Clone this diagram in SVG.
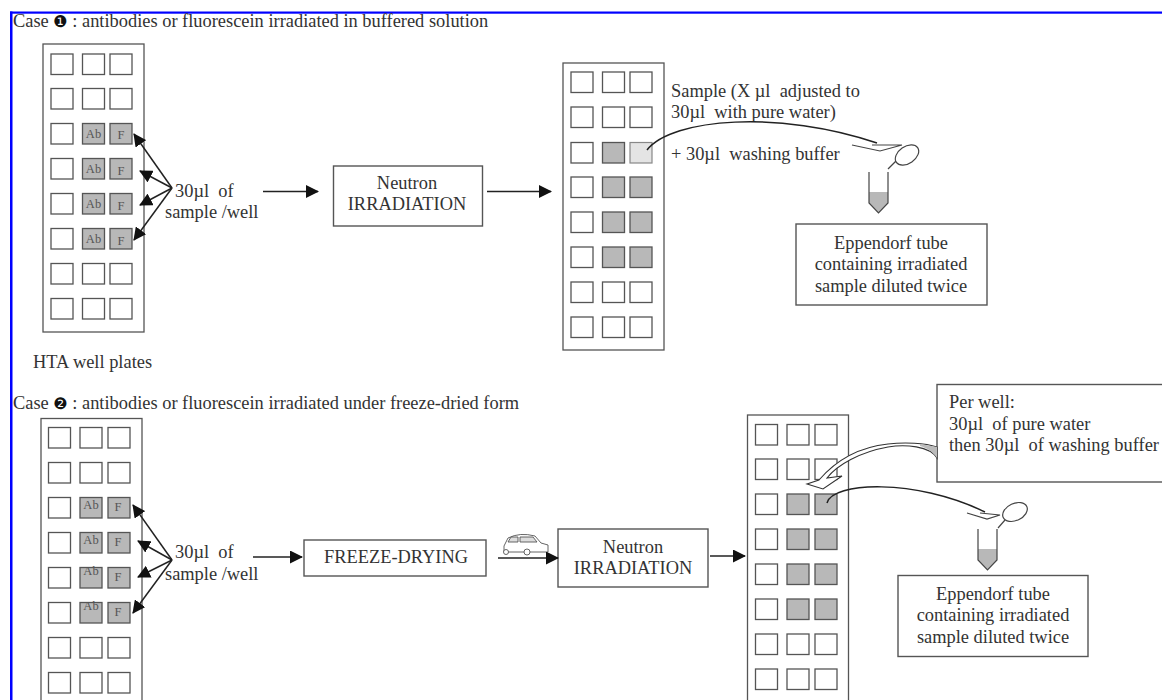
<svg xmlns="http://www.w3.org/2000/svg" width="1162" height="700" viewBox="0 0 1162 700">
<style>
text{font-family:"Liberation Serif","Times New Roman",serif;font-size:18.4px;fill:#333;white-space:pre}
.c{text-anchor:middle}
.box{fill:#fff;stroke:#555;stroke-width:1.4}
.plate{fill:#fff;stroke:#555;stroke-width:1.3}
.w{fill:#fff;stroke:#555;stroke-width:1.3}
.g{fill:#b8b8b8;stroke:#555;stroke-width:1.3}
.l{fill:#e4e4e4;stroke:#888;stroke-width:1.2}
.s{font-size:12.5px;fill:#555;text-anchor:middle}
.ln{fill:none;stroke:#444;stroke-width:1.2}
.ar{fill:none;stroke:#222;stroke-width:1.5;marker-end:url(#ah)}
.cv{fill:none;stroke:#222;stroke-width:1.5}
.bl{fill:#0000ff}
</style>
<defs>
<marker id="ah" markerUnits="userSpaceOnUse" markerWidth="13" markerHeight="13" refX="12" refY="6.500" orient="auto"><path d="M0 0L13 6.500L0 13Z" fill="#111"/></marker>
<rect id="well" class="w" width="22" height="20.500"/>
<rect id="gwell" class="g" width="22" height="20.500"/>
</defs>
<g id="frame"><rect class="bl" x="10" y="11.500" width="1152" height="2.200"/><rect class="bl" x="10" y="11.500" width="2.500" height="688.500"/></g>

<text id="title1" x="13" y="27">Case <tspan font-family="DejaVu Sans" font-size="16" fill="#111">❶</tspan> : antibodies or fluorescein irradiated in buffered solution</text>
<text id="title2" x="13" y="409">Case <tspan font-family="DejaVu Sans" font-size="16" fill="#111">❷</tspan> : antibodies or fluorescein irradiated under freeze-dried form</text>

<g id="plate1">
<rect class="plate" x="43" y="44" width="101" height="288"/>
<use href="#well" x="51" y="54"/><use href="#well" x="82.500" y="54"/><use href="#well" x="110" y="54"/>
<use href="#well" x="51" y="88.500"/><use href="#well" x="82.500" y="88.500"/><use href="#well" x="110" y="88.500"/>
<use href="#well" x="51" y="123.500"/><use href="#gwell" x="82.500" y="123.500"/><use href="#gwell" x="110" y="123.500"/>
<use href="#well" x="51" y="158.500"/><use href="#gwell" x="82.500" y="158.500"/><use href="#gwell" x="110" y="158.500"/>
<use href="#well" x="51" y="193.500"/><use href="#gwell" x="82.500" y="193.500"/><use href="#gwell" x="110" y="193.500"/>
<use href="#well" x="51" y="228.500"/><use href="#gwell" x="82.500" y="228.500"/><use href="#gwell" x="110" y="228.500"/>
<use href="#well" x="51" y="263.500"/><use href="#well" x="82.500" y="263.500"/><use href="#well" x="110" y="263.500"/>
<use href="#well" x="51" y="298.500"/><use href="#well" x="82.500" y="298.500"/><use href="#well" x="110" y="298.500"/>
<text class="s" x="93.500" y="138">Ab</text><text class="s" x="121" y="139">F</text>
<text class="s" x="93.500" y="173">Ab</text><text class="s" x="121" y="175">F</text>
<text class="s" x="93.500" y="208">Ab</text><text class="s" x="121" y="210">F</text>
<text class="s" x="93.500" y="243">Ab</text><text class="s" x="121" y="245">F</text>
</g>
<text id="plate-label" x="33" y="368">HTA well plates</text>

<g id="plate2">
<rect class="plate" x="563" y="63" width="101" height="287"/>
<use href="#well" x="571" y="72"/><use href="#well" x="602.500" y="72"/><use href="#well" x="630" y="72"/>
<use href="#well" x="571" y="107"/><use href="#well" x="602.500" y="107"/><use href="#well" x="630" y="107"/>
<use href="#well" x="571" y="142.500"/><use href="#gwell" x="602.500" y="142.500"/><rect class="l" x="630" y="142.500" width="22" height="20.500"/>
<use href="#well" x="571" y="177"/><use href="#gwell" x="602.500" y="177"/><use href="#gwell" x="630" y="177"/>
<use href="#well" x="571" y="212"/><use href="#gwell" x="602.500" y="212"/><use href="#gwell" x="630" y="212"/>
<use href="#well" x="571" y="247"/><use href="#gwell" x="602.500" y="247"/><use href="#gwell" x="630" y="247"/>
<use href="#well" x="571" y="282"/><use href="#well" x="602.500" y="282"/><use href="#well" x="630" y="282"/>
<use href="#well" x="571" y="317"/><use href="#well" x="602.500" y="317"/><use href="#well" x="630" y="317"/>
</g>

<g id="plate3">
<rect class="plate" x="41" y="418.500" width="101" height="290"/>
<use href="#well" x="48.500" y="427.500"/><use href="#well" x="80" y="427.500"/><use href="#well" x="108" y="427.500"/>
<use href="#well" x="48.500" y="462.500"/><use href="#well" x="80" y="462.500"/><use href="#well" x="108" y="462.500"/>
<use href="#well" x="48.500" y="497.500"/><use href="#gwell" x="80" y="497.500"/><use href="#gwell" x="108" y="497.500"/>
<use href="#well" x="48.500" y="532.500"/><use href="#gwell" x="80" y="532.500"/><use href="#gwell" x="108" y="532.500"/>
<use href="#well" x="48.500" y="567.500"/><use href="#gwell" x="80" y="567.500"/><use href="#gwell" x="108" y="567.500"/>
<use href="#well" x="48.500" y="602.500"/><use href="#gwell" x="80" y="602.500"/><use href="#gwell" x="108" y="602.500"/>
<use href="#well" x="48.500" y="637.500"/><use href="#well" x="80" y="637.500"/><use href="#well" x="108" y="637.500"/>
<use href="#well" x="48.500" y="672.500"/><use href="#well" x="80" y="672.500"/><use href="#well" x="108" y="672.500"/>
<text class="s" x="91" y="509">Ab</text><text class="s" x="118" y="511">F</text>
<text class="s" x="91" y="544">Ab</text><text class="s" x="118" y="546">F</text>
<text class="s" x="91" y="575">Ab</text><text class="s" x="118" y="581">F</text>
<text class="s" x="91" y="610">Ab</text><text class="s" x="118" y="616">F</text>
</g>

<g id="plate4">
<rect class="plate" x="747.500" y="415" width="101" height="295"/>
<use href="#well" x="755.500" y="424.500"/><use href="#well" x="787" y="424.500"/><use href="#well" x="815" y="424.500"/>
<use href="#well" x="755.500" y="459"/><use href="#well" x="787" y="459"/><use href="#well" x="815" y="459"/>
<use href="#well" x="755.500" y="494"/><use href="#gwell" x="787" y="494"/><use href="#gwell" x="815" y="494"/>
<use href="#well" x="755.500" y="529"/><use href="#gwell" x="787" y="529"/><use href="#gwell" x="815" y="529"/>
<use href="#well" x="755.500" y="564"/><use href="#gwell" x="787" y="564"/><use href="#gwell" x="815" y="564"/>
<use href="#well" x="755.500" y="599"/><use href="#gwell" x="787" y="599"/><use href="#gwell" x="815" y="599"/>
<use href="#well" x="755.500" y="634"/><use href="#well" x="787" y="634"/><use href="#well" x="815" y="634"/>
<use href="#well" x="755.500" y="669"/><use href="#well" x="787" y="669"/><use href="#well" x="815" y="669"/>
</g>

<g id="irr1"><rect class="box" x="333.500" y="166" width="149" height="60"/><text class="c" x="407" y="189">Neutron</text><text class="c" x="407" y="210">IRRADIATION</text></g>
<g id="eppendorf1"><rect class="box" x="796" y="224" width="191" height="81"/><text class="c" x="891" y="249">Eppendorf tube</text><text class="c" x="891" y="270">containing irradiated</text><text class="c" x="891" y="292">sample diluted twice</text></g>
<g id="freeze"><rect class="box" x="304" y="540" width="182" height="36"/><text class="c" x="396" y="563">FREEZE-DRYING</text></g>
<g id="irr2"><rect class="box" x="558" y="529" width="150" height="58"/><text class="c" x="633" y="553">Neutron</text><text class="c" x="633" y="574">IRRADIATION</text></g>
<g id="perwell"><rect class="box" x="937" y="384.500" width="240" height="97.500"/><text x="949" y="408">Per well:</text><text x="949" y="430">30µl  of pure water</text><text x="949" y="451">then 30µl  of washing buffer</text></g>
<g id="eppendorf2"><rect class="box" x="898" y="575.500" width="190" height="81"/><text class="c" x="993" y="600">Eppendorf tube</text><text class="c" x="993" y="621">containing irradiated</text><text class="c" x="993" y="643">sample diluted twice</text></g>

<g id="sample-notes">
<text x="671" y="97">Sample (X µl  adjusted to</text>
<text x="671" y="118">30µl  with pure water)</text>
<text x="671" y="160">+ 30µl  washing buffer</text>
</g>
<g id="dose1"><text x="175" y="197">30µl  of</text><text x="165" y="218">sample /well</text></g>
<g id="dose2"><text x="175" y="558">30µl  of</text><text x="165" y="580">sample /well</text></g>

<g id="pipette1">
<path class="ln" d="M852 145L880 151L902 145H872"/>
<ellipse cx="907" cy="155" rx="13" ry="8.500" transform="rotate(-35 907 155)" fill="#fff" stroke="#444" stroke-width="1.200"/>
<path class="ln" d="M896 161L888 169"/>
<path d="M869 192H888V203L878.500 213L869 203Z" fill="#b8b8b8"/>
<path class="ln" d="M869 172V203L878.500 213L888 203V172"/>
</g>
<g id="pipette2">
<path class="ln" d="M967 513L987 519L1000 515L980 513"/>
<ellipse cx="1015" cy="512" rx="13" ry="8.500" transform="rotate(-25 1015 512)" fill="#fff" stroke="#444" stroke-width="1.200"/>
<path class="ln" d="M1005 520L998 528"/>
<path d="M978 549H997V560L987.500 570L978 560Z" fill="#b8b8b8"/>
<path class="ln" d="M978 529V560L987.500 570L997 560V529"/>
</g>

<g id="car" fill="#fff" stroke="#555" stroke-width="0.900">
<path d="M504 552V546L508 538Q520 532 535 536L541 543L548 545V552Z"/>
<path d="M508 542L511 537H518V542ZM520 537H533L537 542H520Z" fill="#ddd"/>
<circle cx="506" cy="552" r="2.500"/><circle cx="527" cy="552" r="3"/>
</g>

<g id="connectors">
<path class="ar" d="M172 188L134 134"/>
<path class="ar" d="M172 188L140 171"/>
<path class="ar" d="M172 188L140 205"/>
<path class="ar" d="M172 188L134 240"/>
<path class="ar" d="M263 191.500H318"/>
<path class="ar" d="M487 191.500H551"/>
<path class="ar" d="M172 560L133 505"/>
<path class="ar" d="M172 560L138 541"/>
<path class="ar" d="M172 560L138 577"/>
<path class="ar" d="M172 560L133 613"/>
<path class="ar" d="M253 557H302"/>
<path class="ar" d="M498 558H558"/>
<path class="ar" d="M710 556H745"/>
<path class="cv" d="M647 150C672 118 780 110 877 143"/>
<path class="cv" d="M827 503C832 482 915 478 985 512"/>
<path d="M937 447C925 443 905 442 888 444C860 447 838 458 819 480L807 484L823 489L842 476L827 478C837 465 860 452 888 447C905 444 930 446 937 458Z" fill="#fff" stroke="#333" stroke-width="1.100"/>
<path d="M920 444L937 447V458C933 452 927 448 920 446Z" fill="#bbb"/>
</g>
</svg>
